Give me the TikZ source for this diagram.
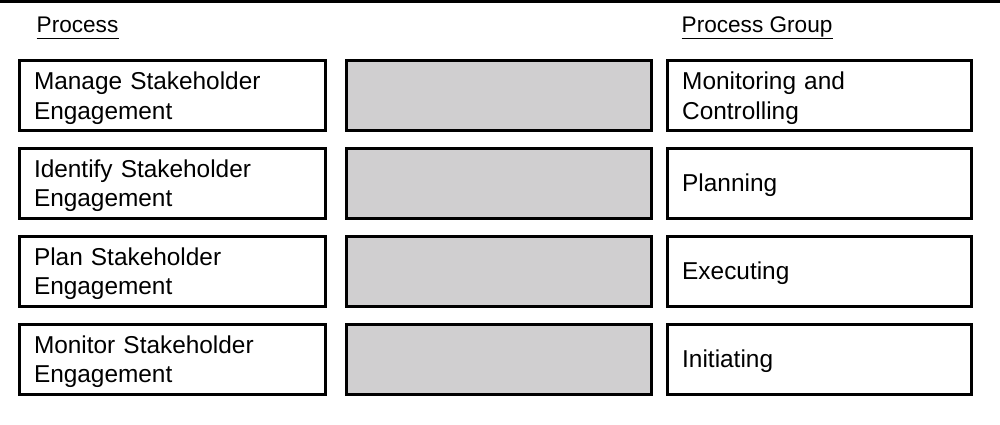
\documentclass[tikz,border=0pt]{standalone}
\usepackage{fontspec}
\setmainfont{Liberation Sans}
\definecolor{boxgray}{RGB}{208,207,208}
\begin{document}
\begin{tikzpicture}[x=1pt,y=-1pt,
  every node/.style={font=\fontsize{24.4}{29.5}\selectfont},
  textbox/.style={draw=black,line width=3pt,rectangle,minimum height=70pt,
    inner xsep=14.5pt,inner ysep=0pt,align=left,text height=17.8pt},
  procbox/.style={textbox,minimum width=306pt,text width=277pt,text depth=29.5pt},
  graybox/.style={draw=black,line width=3pt,rectangle,fill=boxgray,minimum height=70pt,
    minimum width=304.5pt,inner sep=0pt},
  groupbox/.style={textbox,minimum width=304pt,text width=275pt,text depth=0pt},
  groupboxtwo/.style={groupbox,text depth=29.5pt},
  header/.style={inner sep=0pt,anchor=base west,font=\fontsize{22.6}{26}\selectfont},
  uline/.style={line width=1.5pt}
]
\useasboundingbox (0,0) rectangle (1000,425);
\fill[white] (0,0) rectangle (1000,425);
\draw[line width=3pt] (0,1.5) -- (1000,1.5);

\node[header] (hp) at (36.5,33) {Process};
\node[header] (hg) at (681.5,33) {Process Group};
\draw[uline] ([yshift=-5.3pt]hp.base west) -- ([yshift=-5.3pt]hp.base east);
\draw[uline] ([yshift=-5.3pt]hg.base west) -- ([yshift=-5.3pt]hg.base east);

\node[procbox] (p1) at (172.5,95.5) {Manage Stakeholder\\Engagement};
\node[procbox] (p2) at (172.5,183) {Identify Stakeholder\\Engagement};
\node[procbox] (p3) at (172.5,271) {Plan Stakeholder\\Engagement};
\node[procbox] (p4) at (172.5,359) {Monitor Stakeholder\\Engagement};

\node[graybox] (m1) at (498.75,95.5) {};
\node[graybox] (m2) at (498.75,183) {};
\node[graybox] (m3) at (498.75,271) {};
\node[graybox] (m4) at (498.75,359) {};

\node[groupboxtwo] (g1) at (819.7,95.5) {Monitoring and\\Controlling};
\node[groupbox] (g2) at (819.7,183) {Planning};
\node[groupbox] (g3) at (819.7,271) {Executing};
\node[groupbox] (g4) at (819.7,359) {Initiating};
\end{tikzpicture}
\end{document}
